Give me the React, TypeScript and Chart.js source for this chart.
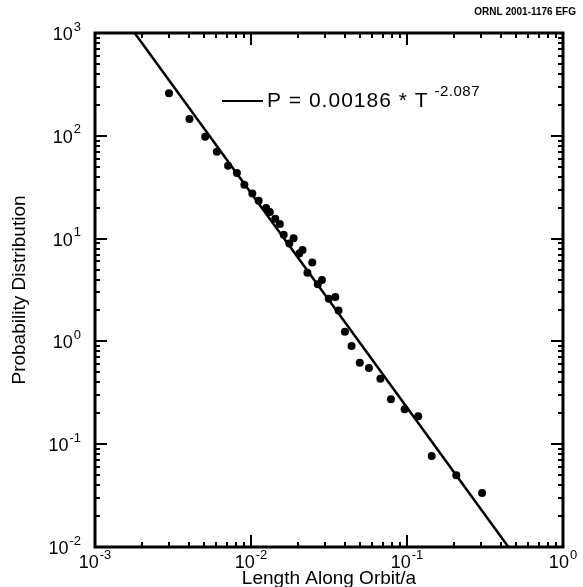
import React, { useEffect, useRef } from "react";
import { Chart, registerables } from "chart.js";

Chart.register(...registerables);

// Measured data: length along orbit / a  vs probability distribution
const lengthAlongOrbit = [
  0.00298, 0.00403, 0.00508, 0.00604, 0.00713, 0.00812, 0.00907, 0.0102, 0.0112,
  0.0125, 0.0132, 0.0143, 0.0153, 0.0162, 0.0176, 0.01875, 0.0204, 0.0214, 0.023,
  0.0247, 0.0268, 0.0285, 0.0315, 0.0347, 0.0364, 0.04, 0.0441, 0.0498, 0.057,
  0.0675, 0.0789, 0.0966, 0.118, 0.144, 0.207, 0.303,
];
const probability = [
  260, 146, 98, 70, 51, 43.5, 33.4, 27.4, 23.3,
  19.9, 18.1, 15.6, 13.9, 10.9, 8.96, 10.1, 7.16, 7.76, 4.66,
  5.86, 3.6, 3.95, 2.6, 2.71, 2.0, 1.24, 0.9, 0.62, 0.55,
  0.432, 0.274, 0.219, 0.187, 0.0766, 0.05, 0.0336,
];

// Fit: P = 0.00186 * T^-2.087
const fitCoefficient = 0.00186;
const fitExponent = -2.087;

const xTickExponents = [-3, -2, -1, 0];
const yTickExponents = [-2, -1, 0, 1, 2, 3];
const xMin = 1e-3;
const xMax = 1;
const yMin = 1e-2;
const yMax = 1e3;

const headerText = "ORNL 2001-1176 EFG";
const xTitle = "Length Along Orbit/a";
const yTitle = "Probability Distribution";

const fitT = (p: number) => Math.pow(p / fitCoefficient, 1 / fitExponent);

const FONT = '"Liberation Sans", Arial, Helvetica, sans-serif';

function drawPow(ctx: CanvasRenderingContext2D, exp: number, x: number, y: number, align: "center" | "right") {
  ctx.save();
  ctx.fillStyle = "#000";
  ctx.textBaseline = "middle";
  ctx.textAlign = "left";
  ctx.font = `18px ${FONT}`;
  const base = "10";
  const w1 = ctx.measureText(base).width;
  ctx.font = `13px ${FONT}`;
  const e = String(exp);
  const w2 = ctx.measureText(e).width;
  const total = w1 + w2 + 1;
  const start = align === "center" ? x - total / 2 : x - total;
  ctx.font = `18px ${FONT}`;
  ctx.fillText(base, start, y);
  ctx.font = `13px ${FONT}`;
  ctx.fillText(e, start + w1 + 1, y - 8);
  ctx.restore();
}

const framePlugin = {
  id: "framePlugin",
  afterDraw(chart: any) {
    const { ctx, chartArea, scales } = chart;
    const xs = scales.x;
    const ys = scales.y;
    const { left, right, top, bottom } = chartArea;
    ctx.save();
    ctx.strokeStyle = "#000";
    // ticks
    ctx.lineWidth = 2;
    for (let d = xTickExponents[0]; d < xTickExponents[xTickExponents.length - 1] + 1; d++) {
      for (let m = 1; m <= 9; m++) {
        const v = m * Math.pow(10, d);
        if (v < xMin * 0.999 || v > xMax * 1.001) continue;
        const px = Math.round(xs.getPixelForValue(v));
        const len = m === 1 ? 12 : 5;
        ctx.beginPath();
        ctx.moveTo(px, bottom);
        ctx.lineTo(px, bottom - len);
        ctx.moveTo(px, top);
        ctx.lineTo(px, top + len);
        ctx.stroke();
      }
    }
    for (let d = yTickExponents[0]; d < yTickExponents[yTickExponents.length - 1] + 1; d++) {
      for (let m = 1; m <= 9; m++) {
        const v = m * Math.pow(10, d);
        if (v < yMin * 0.999 || v > yMax * 1.001) continue;
        const py = Math.round(ys.getPixelForValue(v));
        const len = m === 1 ? 12 : 5;
        ctx.beginPath();
        ctx.moveTo(left, py);
        ctx.lineTo(left + len, py);
        ctx.moveTo(right, py);
        ctx.lineTo(right - len, py);
        ctx.stroke();
      }
    }
    // frame
    ctx.lineWidth = 3;
    ctx.strokeRect(left, top, right - left, bottom - top);

    // tick labels
    xTickExponents.forEach((e) => {
      const px = xs.getPixelForValue(Math.pow(10, e));
      drawPow(ctx, e, px, bottom + 16, "center");
    });
    yTickExponents.forEach((e) => {
      const py = ys.getPixelForValue(Math.pow(10, e));
      drawPow(ctx, e, left - 14, py + 2, "right");
    });

    // axis titles
    ctx.fillStyle = "#000";
    ctx.font = `19px ${FONT}`;
    ctx.textAlign = "center";
    ctx.textBaseline = "middle";
    ctx.fillText(xTitle, (left + right) / 2, bottom + 32);
    ctx.save();
    ctx.translate(20, (top + bottom) / 2);
    ctx.rotate(-Math.PI / 2);
    ctx.fillText(yTitle, 0, 0);
    ctx.restore();

    // header
    ctx.font = `bold 10px ${FONT}`;
    ctx.textAlign = "right";
    ctx.fillText(headerText, 576, 12);

    // legend / equation
    const ly = 101;
    ctx.lineWidth = 2;
    ctx.beginPath();
    ctx.moveTo(222, ly);
    ctx.lineTo(263, ly);
    ctx.stroke();
    ctx.textAlign = "left";
    ctx.font = `21px ${FONT}`;
    (ctx as any).letterSpacing = "1px";
    const eq = "P = " + fitCoefficient.toFixed(5) + " * T";
    ctx.fillText(eq, 267, ly);
    const w = ctx.measureText(eq).width;
    ctx.font = `15px ${FONT}`;
    (ctx as any).letterSpacing = "0.5px";
    ctx.fillText(fitExponent.toFixed(3), 267 + w + 6, ly - 9);
    (ctx as any).letterSpacing = "0px";
    ctx.restore();
  },
};

export default function App() {
  const canvasRef = useRef<HTMLCanvasElement | null>(null);

  useEffect(() => {
    if (!canvasRef.current) return;
    const points = lengthAlongOrbit.map((x, i) => ({ x, y: probability[i] }));
    const fitLine = [
      { x: fitT(yMax), y: yMax },
      { x: fitT(yMin), y: yMin },
    ];
    const chart = new Chart(canvasRef.current, {
      type: "scatter",
      data: {
        datasets: [
          {
            data: fitLine,
            showLine: true,
            borderColor: "#000",
            borderWidth: 2.5,
            pointRadius: 0,
            backgroundColor: "#000",
          },
          {
            data: points,
            pointRadius: 4,
            pointBackgroundColor: "#000",
            pointBorderColor: "#000",
            pointBorderWidth: 0,
            showLine: false,
          },
        ],
      },
      options: {
        responsive: false,
        maintainAspectRatio: false,
        animation: false,
        devicePixelRatio: 1,
        layout: { padding: { top: 33, right: 20, left: 0, bottom: 0 } },
        plugins: { legend: { display: false }, tooltip: { enabled: false } },
        scales: {
          x: {
            type: "logarithmic",
            min: xMin,
            max: xMax,
            ticks: { display: false },
            grid: { display: false },
            border: { display: false },
            afterFit: (s: any) => {
              s.height = 40;
            },
          },
          y: {
            type: "logarithmic",
            min: yMin,
            max: yMax,
            ticks: { display: false },
            grid: { display: false },
            border: { display: false },
            afterFit: (s: any) => {
              s.width = 95;
            },
          },
        },
      },
      plugins: [framePlugin],
    });
    return () => chart.destroy();
  }, []);

  return (
    <div style={{ position: "absolute", left: 0, top: 0, width: 583, height: 587, background: "#fff" }}>
      <canvas ref={canvasRef} width={583} height={587} style={{ display: "block" }} />
    </div>
  );
}
